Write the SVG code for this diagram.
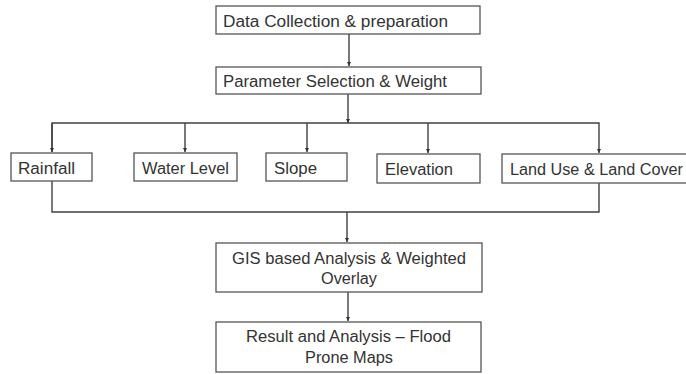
<svg xmlns="http://www.w3.org/2000/svg" width="686" height="374" viewBox="0 0 686 374">
<style>
.box{fill:#fff;stroke:#555;stroke-width:1.3}
.lbl{font-family:"Liberation Sans",Arial,sans-serif;font-size:16px;fill:#333}
.c{text-anchor:middle}
.ln{fill:none;stroke:#404040;stroke-width:1.4}
</style>
<defs>
<marker id="ah" viewBox="0 0 8 8" refX="8" refY="4" markerWidth="4.5" markerHeight="4.5" orient="auto" markerUnits="userSpaceOnUse">
<path d="M0,0 L8,4 L0,8 z" fill="#333"/>
</marker>
</defs>
<rect width="686" height="374" fill="#fff"/>
<g id="connectors">
<path class="ln" d="M349,34 V66" marker-end="url(#ah)"/>
<path class="ln" d="M348,94 V123" marker-end="url(#ah)"/>
<path class="ln" d="M52,152 V123 H599 V153" marker-end="url(#ah)"/>
<path class="ln" d="M52,123 V152" marker-end="url(#ah)"/>
<path class="ln" d="M185,123 V152" marker-end="url(#ah)"/>
<path class="ln" d="M307,123 V152" marker-end="url(#ah)"/>
<path class="ln" d="M428,123 V153" marker-end="url(#ah)"/>
<path class="ln" d="M52,181 V212 H599 V183"/>
<path class="ln" d="M347,212 V242" marker-end="url(#ah)"/>
<path class="ln" d="M348,292 V321" marker-end="url(#ah)"/>
</g>
<g id="n1"><rect class="box" x="216" y="6" width="264" height="28"/><text class="lbl" x="223" y="26.5" textLength="225" lengthAdjust="spacingAndGlyphs">Data Collection &amp; preparation</text></g>
<g id="n2"><rect class="box" x="216" y="67" width="265" height="27"/><text class="lbl" x="223" y="86.5" textLength="224" lengthAdjust="spacingAndGlyphs">Parameter Selection &amp; Weight</text></g>
<g id="n3"><rect class="box" x="11" y="153" width="81" height="28"/><text class="lbl" x="18" y="174" textLength="57" lengthAdjust="spacingAndGlyphs">Rainfall</text></g>
<g id="n4"><rect class="box" x="134" y="153" width="103" height="28"/><text class="lbl" x="142" y="174" textLength="87" lengthAdjust="spacingAndGlyphs">Water Level</text></g>
<g id="n5"><rect class="box" x="266" y="153" width="81" height="28"/><text class="lbl" x="274" y="174" textLength="43" lengthAdjust="spacingAndGlyphs">Slope</text></g>
<g id="n6"><rect class="box" x="377" y="154" width="103" height="29"/><text class="lbl" x="385" y="175" textLength="68" lengthAdjust="spacingAndGlyphs">Elevation</text></g>
<g id="n7"><rect class="box" x="502" y="154" width="190" height="29"/><text class="lbl" x="510" y="175" textLength="173" lengthAdjust="spacingAndGlyphs">Land Use &amp; Land Cover</text></g>
<g id="n8"><rect class="box" x="216" y="243" width="266" height="49"/><text class="lbl" x="232" y="264" textLength="234" lengthAdjust="spacingAndGlyphs">GIS based Analysis &amp; Weighted</text><text class="lbl" x="321" y="283.5" textLength="56" lengthAdjust="spacingAndGlyphs">Overlay</text></g>
<g id="n9"><rect class="box" x="216" y="322" width="265" height="50"/><text class="lbl" x="246" y="342" textLength="205" lengthAdjust="spacingAndGlyphs">Result and Analysis – Flood</text><text class="lbl" x="305" y="363" textLength="88" lengthAdjust="spacingAndGlyphs">Prone Maps</text></g>
</svg>
